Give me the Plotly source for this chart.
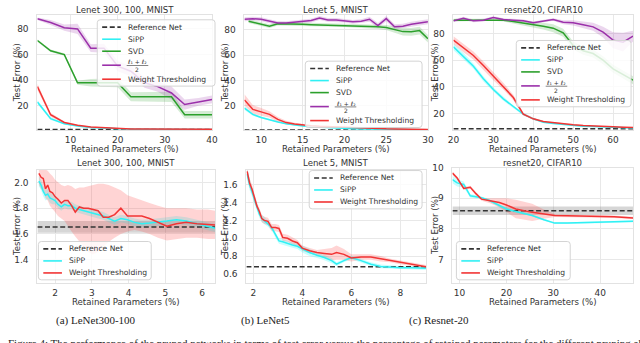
import plotly.graph_objects as go

W, H = 640, 343

# ---------------- DATA ----------------
# Top row, (a) Lenet 300,100 MNIST
x_a1 = [3, 5.8, 8.7, 11.5, 14.3, 17.1, 20, 22.8, 25.7, 28.5, 31.4, 34.2, 37.1, 40]
ref_a1 = 1.6
sipp_a1 = [23, 10, 6, 4.2, 3.0, 2.4, 1.9, 1.75, 1.7, 1.65, 1.62, 1.6, 1.6, 1.6]
sipp_a1_sd = [1.5, 1.0, 0.6, 0.4, 0.3, 0.2, 0.15, 0.1, 0.1, 0.1, 0.1, 0.1, 0.1, 0.1]
svd_a1 = [71, 63, 60, 38, 38, 38, 38, 27, 27, 27, 27, 13, 13, 13]
svd_a1_sd = [1.0, 1.0, 1.0, 1.5, 3.0, 3.5, 3.5, 3.5, 3.5, 4.0, 4.0, 3.0, 3.0, 3.0]
l12_a1 = [88, 85, 81, 80, 65, 65, 51, 47, 38, 35, 30, 21, 23, 25]
l12_a1_sd = [1.0, 2.0, 2.5, 4.0, 3.0, 3.5, 4.0, 4.0, 4.0, 4.0, 5.0, 4.0, 3.0, 3.0]
wt_a1 = [35, 13, 7, 4.8, 3.5, 2.8, 2.2, 1.9, 1.8, 1.72, 1.7, 1.66, 1.65, 1.65]
wt_a1_sd = [2.5, 1.5, 0.8, 0.5, 0.3, 0.2, 0.2, 0.1, 0.1, 0.1, 0.1, 0.1, 0.1, 0.1]

# Top row, (b) Lenet 5 MNIST
x_b1 = [8, 9, 10, 11, 12, 13, 14, 15, 16, 17, 18, 19, 20, 21, 22, 23, 24, 25, 26, 27, 28, 29, 30]
ref_b1 = 0.68
l12_b1 = [88.5, 89, 88.5, 87, 85.5, 85.5, 86, 87, 87.5, 89.5, 88, 88, 87.5, 86.5, 87, 88.5, 83.5, 89, 82.5, 83, 84.5, 85.5, 86.5]
l12_b1_sd = [1.5, 1.5, 1.5, 1.5, 1.5, 1.5, 1.5, 1.5, 1.5, 1.5, 1.5, 1.5, 1.5, 1.5, 1.5, 2, 2, 2, 2, 2, 2, 2, 2]
x_b1_svd = [8.5, 10, 11, 12, 13, 14, 15, 16, 17, 18, 19, 20, 21, 22, 23, 24, 25, 26, 27, 28, 29, 30]
svd_b1 = [87, 84.5, 83, 85, 85, 84.8, 84.5, 84.2, 84, 84, 84, 83.8, 83.5, 83, 82.8, 82.5, 82, 80.5, 78.7, 78.5, 79.5, 73]
svd_b1_sd = [1.5, 1.5, 1.5, 1.5, 1.5, 1.5, 1.5, 1.5, 1.5, 1.5, 1.5, 1.5, 1.5, 1.5, 1.5, 1.8, 2, 2.5, 3, 3, 3, 3]
wt_b1 = [24.5, 17, 15, 13, 9, 6.5, 5.3, 4.5, 4, 3.6, 3.3, 3, 2.7, 2.4, 2.2, 2, 1.8, 1.6, 1.5, 1.4, 1.3, 1.2, 1.1]
wt_b1_sd = [4.5, 3.5, 3, 2.5, 2, 1.5, 1, 0.8, 0.6, 0.5, 0.5, 0.4, 0.4, 0.3, 0.3, 0.3, 0.3, 0.2, 0.2, 0.2, 0.2, 0.2, 0.2]
sipp_b1 = [18, 13, 10.5, 8.5, 7, 5.5, 4.5, 3.8, 3.2, 2.8, 2.4, 2.1, 1.9, 1.7, 1.5, 1.4, 1.3, 1.2, 1.1, 1.0, 0.95, 0.9, 0.85]
sipp_b1_sd = [1.5, 1, 0.8, 0.6, 0.5, 0.4, 0.3, 0.3, 0.2, 0.2, 0.2, 0.2, 0.2, 0.2, 0.1, 0.1, 0.1, 0.1, 0.1, 0.1, 0.1, 0.1, 0.1]

# Top row, (c) resnet20 CIFAR10
x_c1 = [20, 22.5, 25, 27.5, 30, 32.5, 35, 37.5, 40, 42.5, 45, 47.5, 50, 52.5, 55, 57.5, 60, 62.5, 65]
ref_c1 = 8.6
l12_c1 = [89.5, 91.5, 89.5, 90, 92, 90.5, 90, 89.5, 88, 89.5, 90.5, 88.5, 88, 86.5, 85, 81, 75, 73.5, 78]
l12_c1_sd = [1, 1, 1, 1, 1, 1, 1, 1, 1, 1, 1, 1.5, 2, 2.5, 3, 4, 6, 7, 4]
svd_c1 = [90, 90, 90, 90.5, 90.5, 90, 89, 88, 86.5, 85.5, 84, 80.5, 71, 67, 65, 60, 53.5, 49, 45]
svd_c1_sd = [1, 1, 1, 1, 1, 1, 1, 1.5, 2, 2.5, 3, 3, 3, 3, 3, 3, 3, 3, 3]
wt_c1 = [75, 69, 63.5, 56, 48, 40.5, 32, 19.5, 16, 14, 13, 12.3, 11.5, 11, 10.5, 10.2, 10, 9.7, 9.5]
wt_c1_sd = [3, 3, 3, 3, 3, 2.5, 2, 1, 0.8, 0.5, 0.5, 0.4, 0.4, 0.3, 0.3, 0.3, 0.3, 0.3, 0.3]
sipp_c1 = [70, 63, 55.5, 46, 38, 31, 25, 19.5, 16, 13.5, 12.5, 11.7, 11, 10.5, 10.2, 9.9, 9.6, 9.4, 9.2]
sipp_c1_sd = [2.5, 2.5, 2, 2, 1.5, 1.5, 1, 0.8, 0.6, 0.5, 0.4, 0.4, 0.3, 0.3, 0.3, 0.3, 0.3, 0.3, 0.3]

# Bottom row, (a) Lenet 300,100 MNIST (zoom)
x_a2 = [1.56, 1.62, 1.68, 1.74, 1.80, 1.86, 1.93, 2.00, 2.08, 2.17, 2.26, 2.35, 2.45, 2.55, 2.66, 2.78, 2.90,
        3.03, 3.17, 3.31, 3.46, 3.62, 3.79, 3.97, 4.16, 4.36, 4.57, 4.80, 5.04, 5.30, 5.57, 5.86, 6.16, 6.35]
ref_a2 = 1.655
ref_a2_sd = 0.045
wt_a2 = [2.07, 2.04, 2.03, 1.95, 1.98, 1.93, 1.92, 1.89, 1.87, 1.84, 1.86, 1.86, 1.82, 1.77, 1.81, 1.80, 1.80,
         1.79, 1.78, 1.73, 1.73, 1.75, 1.80, 1.74, 1.74, 1.74, 1.72, 1.69, 1.66, 1.68, 1.69, 1.68, 1.675, 1.67]
wt_a2_hi = [2.15, 2.13, 2.12, 2.10, 2.09, 2.07, 2.05, 2.02, 2.0, 1.98, 1.97, 1.98, 1.97, 1.95, 1.96, 1.96, 1.97,
            1.98, 1.99, 1.99, 1.98, 1.96, 1.94, 1.90, 1.88, 1.86, 1.84, 1.82, 1.80, 1.80, 1.80, 1.79, 1.79, 1.78]
wt_a2_lo = [1.98, 1.95, 1.93, 1.88, 1.86, 1.82, 1.80, 1.77, 1.74, 1.72, 1.70, 1.66, 1.62, 1.58, 1.54, 1.50, 1.46,
            1.44, 1.46, 1.50, 1.54, 1.57, 1.60, 1.62, 1.63, 1.62, 1.60, 1.57, 1.55, 1.56, 1.57, 1.57, 1.56, 1.56]
sipp_a2 = [2.01, 1.98, 1.93, 1.90, 1.91, 1.88, 1.87, 1.86, 1.83, 1.81, 1.83, 1.82, 1.82, 1.80, 1.79, 1.78, 1.77,
           1.76, 1.75, 1.74, 1.72, 1.70, 1.72, 1.71, 1.69, 1.68, 1.685, 1.69, 1.70, 1.71, 1.70, 1.68, 1.66, 1.645]
sipp_a2_sd = [0.04, 0.04, 0.04, 0.04, 0.04, 0.04, 0.04, 0.03, 0.03, 0.03, 0.03, 0.03, 0.03, 0.03, 0.03, 0.03, 0.03,
              0.03, 0.03, 0.03, 0.03, 0.03, 0.03, 0.03, 0.03, 0.03, 0.03, 0.03, 0.03, 0.03, 0.03, 0.03, 0.03, 0.03]

# Bottom row, (b) Lenet 5 MNIST (zoom)
x_b2 = [1.75, 1.85, 1.95, 2.05, 2.15, 2.25, 2.35, 2.45, 2.6, 2.75, 2.9, 3.05, 3.2, 3.4, 3.6, 3.8, 4.0, 4.3, 4.6,
        4.9, 5.2, 5.4, 5.7, 6.0, 6.4, 6.8, 7.2, 7.6, 8.0, 8.5, 9.05]
ref_b2 = 0.68
wt_b2 = [1.75, 1.62, 1.55, 1.45, 1.36, 1.30, 1.22, 1.20, 1.19, 1.12, 1.12, 1.11, 1.01, 1.00, 0.97, 0.95, 0.89, 0.86,
         0.84, 0.83, 0.82, 0.84, 0.82, 0.78, 0.79, 0.79, 0.77, 0.75, 0.73, 0.71, 0.68]
wt_b2_sd = [0.05, 0.05, 0.05, 0.05, 0.04, 0.04, 0.04, 0.04, 0.04, 0.04, 0.04, 0.04, 0.04, 0.04, 0.04, 0.03, 0.03,
            0.03, 0.03, 0.05, 0.07, 0.08, 0.06, 0.04, 0.03, 0.03, 0.03, 0.02, 0.02, 0.02, 0.02]
sipp_b2 = [1.72, 1.60, 1.52, 1.43, 1.35, 1.27, 1.22, 1.20, 1.16, 1.12, 1.04, 0.97, 0.96, 0.94, 0.925, 0.91, 0.88,
           0.84, 0.81, 0.785, 0.75, 0.71, 0.75, 0.785, 0.75, 0.71, 0.685, 0.675, 0.67, 0.67, 0.665]
sipp_b2_sd = [0.06, 0.06, 0.05, 0.05, 0.05, 0.04, 0.04, 0.04, 0.03, 0.03, 0.03, 0.03, 0.03, 0.03, 0.03, 0.03, 0.04,
              0.04, 0.03, 0.03, 0.03, 0.02, 0.02, 0.02, 0.02, 0.02, 0.02, 0.02, 0.02, 0.02, 0.02]

# Bottom row, (c) resnet20 CIFAR10 (zoom)
x_c2 = [8.5, 9.5, 10.9, 12.3, 13.5, 14.7, 16.5, 18.5, 20, 22, 25.5, 28, 30.3, 33, 35.9, 40, 43, 47]
ref_c2 = 8.59
ref_c2_sd = 0.14
wt_c2 = [9.82, 9.66, 9.32, 9.36, 9.15, 8.97, 8.92, 8.86, 8.78, 8.65, 8.54, 8.48, 8.44, 8.43, 8.42, 8.41, 8.40, 8.36]
wt_c2_sd = [0.05, 0.05, 0.05, 0.05, 0.05, 0.05, 0.08, 0.15, 0.22, 0.3, 0.28, 0.15, 0.05, 0.04, 0.04, 0.04, 0.04, 0.04]
sipp_c2 = [9.61, 9.5, 9.45, 9.08, 9.05, 9.02, 8.92, 8.75, 8.65, 8.57, 8.44, 8.3, 8.19, 8.19, 8.2, 8.22, 8.24, 8.25]
sipp_c2_sd = [0.12, 0.12, 0.1, 0.06, 0.05, 0.04, 0.04, 0.04, 0.04, 0.04, 0.03, 0.03, 0.03, 0.03, 0.03, 0.03, 0.03, 0.03]

titles = ["Lenet 300, 100, MNIST", "Lenet 5, MNIST", "resnet20, CIFAR10"]
captions = ["(a) LeNet300-100", "(b) LeNet5", "(c) Resnet-20"]
names = {"ref": "Reference Net", "sipp": "SiPP", "svd": "SVD", "wt": "Weight Thresholding"}
l12_num, l12_den = "ℓ₁ + ℓ₂", "2"

# ---------------- STYLE ----------------
COL = {"ref": "#333333", "sipp": "#30f0f4", "svd": "#2ca02c", "l12": "#9b30aa", "wt": "#f23434"}
FILL = {"ref": "rgba(120,120,120,0.30)", "sipp": "rgba(0,255,255,0.22)", "svd": "rgba(44,160,44,0.20)",
        "l12": "rgba(155,48,170,0.20)", "wt": "rgba(255,60,60,0.22)"}
FONT = "DejaVu Sans"
TXT = "#333333"
DASH = "5px,2.6px"


def px_x(p):
    return p / W


def px_y(p):
    return 1 - p / H


def band(mean, sd):
    return [m + s for m, s in zip(mean, sd)], [m - s for m, s in zip(mean, sd)]


panels = [
    dict(dx=(32, 210), dy=(10, 127), xr=[3, 40], yr=[1.0, 91], xt=[10, 20, 30, 40], yt=[20, 40, 60, 80], yf="d",
         title=titles[0], leg=(93, 15, 213),
         ref=(ref_a1, None),
         series=[("sipp", x_a1, sipp_a1, *band(sipp_a1, sipp_a1_sd)),
                 ("svd", x_a1, svd_a1, *band(svd_a1, svd_a1_sd)),
                 ("l12", x_a1, l12_a1, *band(l12_a1, l12_a1_sd)),
                 ("wt", x_a1, wt_a1, *band(wt_a1, wt_a1_sd))]),
    dict(dx=(243, 430), dy=(10, 127), xr=[8, 30], yr=[0.5, 92], xt=[10, 15, 20, 25, 30], yt=[20, 40, 60, 80], yf="d",
         title=titles[1], leg=(305, 57, 424),
         ref=(ref_b1, None),
         series=[("sipp", x_b1, sipp_b1, *band(sipp_b1, sipp_b1_sd)),
                 ("svd", x_b1_svd, svd_b1, *band(svd_b1, svd_b1_sd)),
                 ("l12", x_b1, l12_b1, *band(l12_b1, l12_b1_sd)),
                 ("wt", x_b1, wt_b1, *band(wt_b1, wt_b1_sd))]),
    dict(dx=(456, 639), dy=(10, 127), xr=[20, 65], yr=[7.5, 94], xt=[20, 30, 40, 50, 60], yt=[20, 40, 60, 80], yf="d",
         title=titles[2], leg=(520, 36, 637),
         ref=(ref_c1, None),
         series=[("sipp", x_c1, sipp_c1, *band(sipp_c1, sipp_c1_sd)),
                 ("svd", x_c1, svd_c1, *band(svd_c1, svd_c1_sd)),
                 ("l12", x_c1, l12_c1, *band(l12_c1, l12_c1_sd)),
                 ("wt", x_c1, wt_c1, *band(wt_c1, wt_c1_sd))]),
    dict(dx=(32, 213), dy=(167, 282), xr=[1.52, 6.35], yr=[1.22, 2.1], xt=[2, 3, 4, 5, 6], yt=[1.4, 1.6, 1.8, 2.0],
         yf=".1f", title=titles[0], leg=(33, 240, 148),
         ref=(ref_a2, ref_a2_sd),
         series=[("sipp", x_a2, sipp_a2, *band(sipp_a2, sipp_a2_sd)),
                 ("wt", x_a2, wt_a2, wt_a2_hi, wt_a2_lo)]),
    dict(dx=(245, 428), dy=(167, 282), xr=[1.72, 9.05], yr=[0.5, 1.77], xt=[2, 4, 6, 8],
         yt=[0.6, 0.8, 1.0, 1.2, 1.4, 1.6], yf=".1f", title=titles[1], leg=(309, 168, 424),
         ref=(ref_b2, None),
         series=[("sipp", x_b2, sipp_b2, *band(sipp_b2, sipp_b2_sd)),
                 ("wt", x_b2, wt_b2, *band(wt_b2, wt_b2_sd))]),
    dict(dx=(455, 639), dy=(165, 282), xr=[8.5, 47], yr=[6.24, 10.0], xt=[10, 20, 30, 40], yt=[7, 8, 9, 10],
         yf="d", title=titles[2], leg=(459, 240, 575),
         ref=(ref_c2, ref_c2_sd),
         series=[("sipp", x_c2, sipp_c2, *band(sipp_c2, sipp_c2_sd)),
                 ("wt", x_c2, wt_c2, *band(wt_c2, wt_c2_sd))]),
]

fig = go.Figure()
layout = dict(width=W, height=H, margin=dict(l=0, r=0, t=0, b=0), paper_bgcolor="white",
              plot_bgcolor="white", showlegend=False, font=dict(family=FONT, size=9, color=TXT))
annotations = []
shapes = []


def rounded_box(x0p, y0p, x1p, y1p, r=3):
    x0, x1 = px_x(x0p), px_x(x1p)
    yt, yb = px_y(y0p), px_y(y1p)
    rx, ry = r / W, r / H
    path = (f"M {x0 + rx},{yt} L {x1 - rx},{yt} Q {x1},{yt} {x1},{yt - ry} L {x1},{yb + ry} "
            f"Q {x1},{yb} {x1 - rx},{yb} L {x0 + rx},{yb} Q {x0},{yb} {x0},{yb + ry} L {x0},{yt - ry} "
            f"Q {x0},{yt} {x0 + rx},{yt} Z")
    return dict(type="path", path=path, xref="paper", yref="paper", fillcolor="rgba(255,255,255,0.82)",
                line=dict(color="#d4d4d4", width=1), layer="above")


def add_legend(left, top, right, keys):
    step, frac_extra = 12.2, 2.0
    y = top + 7.5
    rows = []
    for k in keys:
        if k == "l12":
            y += frac_extra
        rows.append((k, y))
        y += step
        if k == "l12":
            y += frac_extra
    bottom = rows[-1][1] + 7.0
    shapes.append(rounded_box(left, top, right, bottom))
    for k, yc in rows:
        shapes.append(dict(type="line", xref="paper", yref="paper", x0=px_x(left + 5), x1=px_x(left + 24),
                           y0=px_y(yc), y1=px_y(yc), layer="above",
                           line=dict(color=COL[k], width=1.6, dash=DASH if k == "ref" else "solid")))
        if k == "l12":
            tx = left + 29
            annotations.append(dict(text=l12_num, x=px_x(tx + 12), y=px_y(yc - 3.6), xref="paper", yref="paper",
                                    showarrow=False, xanchor="center", yanchor="middle",
                                    font=dict(family=FONT, size=6, color=TXT)))
            annotations.append(dict(text=l12_den, x=px_x(tx + 12), y=px_y(yc + 4.2), xref="paper", yref="paper",
                                    showarrow=False, xanchor="center", yanchor="middle",
                                    font=dict(family=FONT, size=6, color=TXT)))
            shapes.append(dict(type="line", xref="paper", yref="paper", x0=px_x(tx + 1), x1=px_x(tx + 23),
                               y0=px_y(yc + 0.3), y1=px_y(yc + 0.3), layer="above",
                               line=dict(color=TXT, width=0.6)))
        else:
            annotations.append(dict(text=names[k], x=px_x(left + 29), y=px_y(yc), xref="paper", yref="paper",
                                    showarrow=False, xanchor="left", yanchor="middle",
                                    font=dict(family=FONT, size=7.6, color=TXT)))


for i, p in enumerate(panels):
    n = i + 1
    xa = "x" if n == 1 else f"x{n}"
    ya = "y" if n == 1 else f"y{n}"
    axis_common = dict(showgrid=True, gridcolor="#e8e8e8", gridwidth=1, zeroline=False, showline=True,
                       linecolor="#e2e2e2", linewidth=1, mirror=True, ticks="",
                       tickfont=dict(family=FONT, size=9, color=TXT))
    layout["xaxis" if n == 1 else f"xaxis{n}"] = dict(
        axis_common, domain=[px_x(p["dx"][0]), px_x(p["dx"][1])], range=p["xr"], tickvals=p["xt"],
        anchor=ya, ticklabelstandoff=1)
    layout["yaxis" if n == 1 else f"yaxis{n}"] = dict(
        axis_common, domain=[px_y(p["dy"][1]), px_y(p["dy"][0])], range=p["yr"], tickvals=p["yt"],
        tickformat=p["yf"], anchor=xa, ticklabelstandoff=6)

    ref_val, ref_sd = p["ref"]
    if ref_sd is not None:
        fig.add_trace(go.Scatter(x=[p["xr"][0], p["xr"][1], p["xr"][1], p["xr"][0]],
                                 y=[ref_val + ref_sd, ref_val + ref_sd, ref_val - ref_sd, ref_val - ref_sd],
                                 fill="toself", fillcolor=FILL["ref"], line=dict(width=0), mode="lines",
                                 hoverinfo="skip", xaxis=xa, yaxis=ya))
    for key, xs, ys, hi, lo in p["series"]:
        fig.add_trace(go.Scatter(x=list(xs) + list(xs)[::-1], y=list(hi) + list(lo)[::-1], fill="toself",
                                 fillcolor=FILL[key], line=dict(width=0), mode="lines",
                                 hoverinfo="skip", xaxis=xa, yaxis=ya))
    fig.add_trace(go.Scatter(x=[p["xr"][0], p["xr"][1]], y=[ref_val, ref_val], mode="lines",
                             line=dict(color=COL["ref"], width=1.5, dash=DASH), name=names["ref"],
                             xaxis=xa, yaxis=ya))
    for key, xs, ys, hi, lo in p["series"]:
        fig.add_trace(go.Scatter(x=xs, y=ys, mode="lines", line=dict(color=COL[key], width=1.5),
                                 name=names.get(key, "(ℓ₁ + ℓ₂)/2"), xaxis=xa, yaxis=ya))

    add_legend(p["leg"][0], p["leg"][1], p["leg"][2], ["ref"] + [s[0] for s in p["series"]])

    cx = px_x((p["dx"][0] + p["dx"][1]) / 2)
    cy = px_y((p["dy"][0] + p["dy"][1]) / 2)
    title_py = 5 if i < 3 else 160
    annotations.append(dict(text=p["title"], x=cx, y=px_y(title_py), xref="paper", yref="paper",
                            showarrow=False, xanchor="center", yanchor="middle",
                            font=dict(family=FONT, size=8.6, color=TXT)))
    annotations.append(dict(text="Retained Parameters (%)", x=cx, y=px_y(p["dy"][1] + 19.5), xref="paper",
                            yref="paper", showarrow=False, xanchor="center", yanchor="middle",
                            font=dict(family=FONT, size=8.6, color=TXT)))
    ytx = {0: 11, 1: 223, 2: 437}[i % 3]
    annotations.append(dict(text="Test Error (%)", x=px_x(ytx), y=cy, xref="paper", yref="paper",
                            showarrow=False, textangle=-90, xanchor="center", yanchor="middle",
                            font=dict(family=FONT, size=8.6, color=TXT)))

for cap, cxp in zip(captions, [92, 264, 441]):
    annotations.append(dict(text=cap, x=px_x(cxp), y=px_y(320), xref="paper", yref="paper", showarrow=False,
                            xanchor="center", yanchor="middle",
                            font=dict(family="Liberation Serif", size=11, color="#222222")))
annotations.append(dict(text="Figure 4: The performance of the pruned networks in terms of test error versus the "
                             "percentage of retained parameters for the different pruning algorithms and datasets",
                        x=0, y=px_y(335), xref="paper", yref="paper", showarrow=False, xanchor="left",
                        yanchor="top", font=dict(family="Liberation Serif", size=11, color="#222222")))

layout["annotations"] = annotations
layout["shapes"] = shapes
fig.update_layout(**layout)
fig.write_html("out.html", config={"displayModeBar": False},
               post_script="document.body.style.margin='0px';document.body.style.overflow='hidden';")
